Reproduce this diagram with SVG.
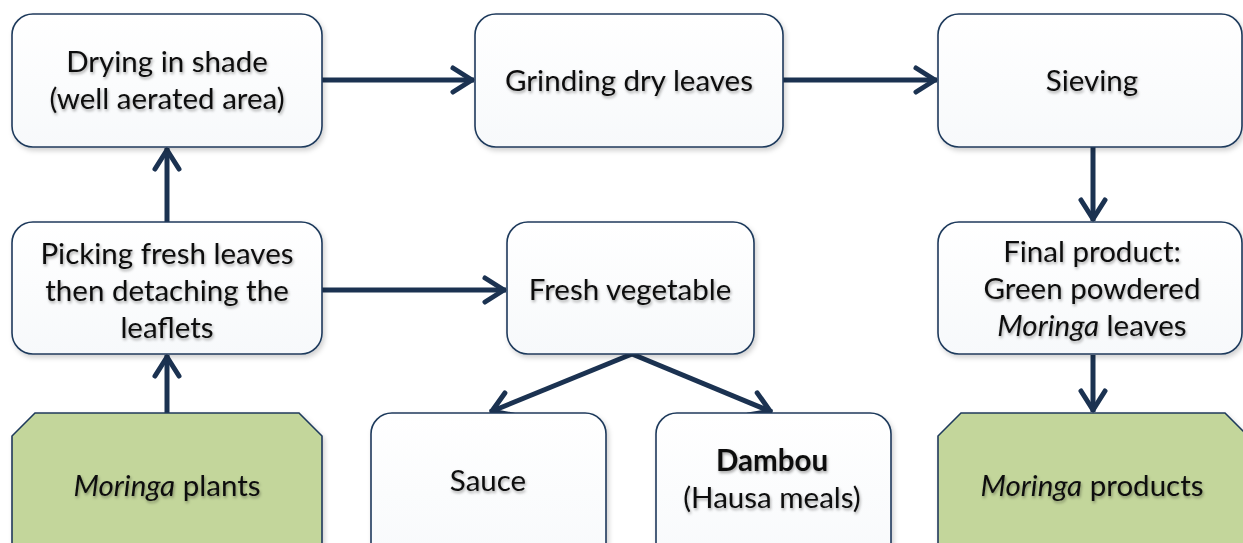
<svg xmlns="http://www.w3.org/2000/svg" width="1243" height="543" viewBox="0 0 1243 543">
<defs>
<filter id="bsh" x="-5%" y="-5%" width="115%" height="120%">
<feDropShadow dx="2" dy="3" stdDeviation="2.5" flood-color="#000" flood-opacity="0.18"/>
</filter>
<filter id="tsh" x="-5%" y="-20%" width="115%" height="160%">
<feDropShadow dx="1" dy="2" stdDeviation="1.5" flood-color="#000" flood-opacity="0.35"/>
</filter>
<linearGradient id="wg" x1="0" y1="0" x2="0" y2="1">
<stop offset="0" stop-color="#ffffff"/>
<stop offset="1" stop-color="#f7f9fb"/>
</linearGradient>
<marker id="ah" markerUnits="userSpaceOnUse" markerWidth="40" markerHeight="40" viewBox="-30 -20 40 40" refX="0" refY="0" orient="auto" overflow="visible">
<path d="M-21,-12 L-2,0 L-21,12" fill="none" stroke="#1b3251" stroke-width="5" stroke-linecap="round" stroke-linejoin="round"/>
</marker>
</defs>
<style>
.box{fill:url(#wg);stroke:#1f3a5c;stroke-width:1.6;filter:url(#bsh)}
.grn{fill:#c3d69b;stroke:#1f3a5c;stroke-width:1.6;filter:url(#bsh)}
.t{font-family:Lato,"Open Sans",sans-serif;font-size:29.5px;fill:#111;text-anchor:middle;filter:url(#tsh)}
.c{fill:none;stroke:#1b3251;stroke-width:5;marker-end:url(#ah)}
</style>
<rect width="1243" height="543" fill="#ffffff"/>

<g id="connectors">
<line class="c" x1="322" y1="80" x2="474" y2="80"/>
<line class="c" x1="783" y1="80" x2="937" y2="80"/>
<line class="c" x1="167" y1="222" x2="167" y2="148"/>
<line class="c" x1="167" y1="413" x2="167" y2="355"/>
<line class="c" x1="322" y1="290" x2="506" y2="290"/>
<line class="c" x1="632" y1="354" x2="490" y2="412"/>
<line class="c" x1="632" y1="354" x2="772" y2="412"/>
<line class="c" x1="1093" y1="147" x2="1093" y2="221"/>
<line class="c" x1="1093" y1="355" x2="1093" y2="412"/>
</g>

<g id="drying">
<rect class="box" x="12" y="14" width="310" height="133" rx="21"/>
<text class="t" x="167" y="72">Drying in shade</text>
<text class="t" x="167" y="109">(well aerated area)</text>
</g>
<g id="grinding">
<rect class="box" x="475" y="14" width="308" height="133" rx="21"/>
<text class="t" x="629" y="91">Grinding dry leaves</text>
</g>
<g id="sieving">
<rect class="box" x="938" y="14" width="304" height="133" rx="21"/>
<text class="t" x="1092" y="91">Sieving</text>
</g>
<g id="picking">
<rect class="box" x="12" y="222" width="310" height="132" rx="21"/>
<text class="t" x="167" y="264">Picking fresh leaves</text>
<text class="t" x="167" y="301">then detaching the</text>
<text class="t" x="167" y="338">leaflets</text>
</g>
<g id="fresh">
<rect class="box" x="507" y="222" width="247" height="132" rx="21"/>
<text class="t" x="630" y="300">Fresh vegetable</text>
</g>
<g id="final">
<rect class="box" x="938" y="222" width="304" height="132" rx="21"/>
<text class="t" x="1092" y="262">Final product:</text>
<text class="t" x="1092" y="299">Green powdered</text>
<text class="t" x="1092" y="336"><tspan font-style="italic">Moringa</tspan> leaves</text>
</g>
<g id="plants">
<path class="grn" d="M35,413 L299,413 L322,436 L322,560 L12,560 L12,436 Z"/>
<text class="t" x="167" y="496"><tspan font-style="italic">Moringa</tspan> plants</text>
</g>
<g id="sauce">
<rect class="box" x="371" y="413" width="235" height="160" rx="21"/>
<text class="t" x="488" y="491">Sauce</text>
</g>
<g id="dambou">
<rect class="box" x="656" y="413" width="235" height="160" rx="21"/>
<text class="t" x="772" y="471" font-weight="bold">Dambou</text>
<text class="t" x="772" y="508">(Hausa meals)</text>
</g>
<g id="products">
<path class="grn" d="M961,413 L1225,413 L1248,436 L1248,560 L938,560 L938,436 Z"/>
<text class="t" x="1092" y="496"><tspan font-style="italic">Moringa</tspan> products</text>
</g>
</svg>
